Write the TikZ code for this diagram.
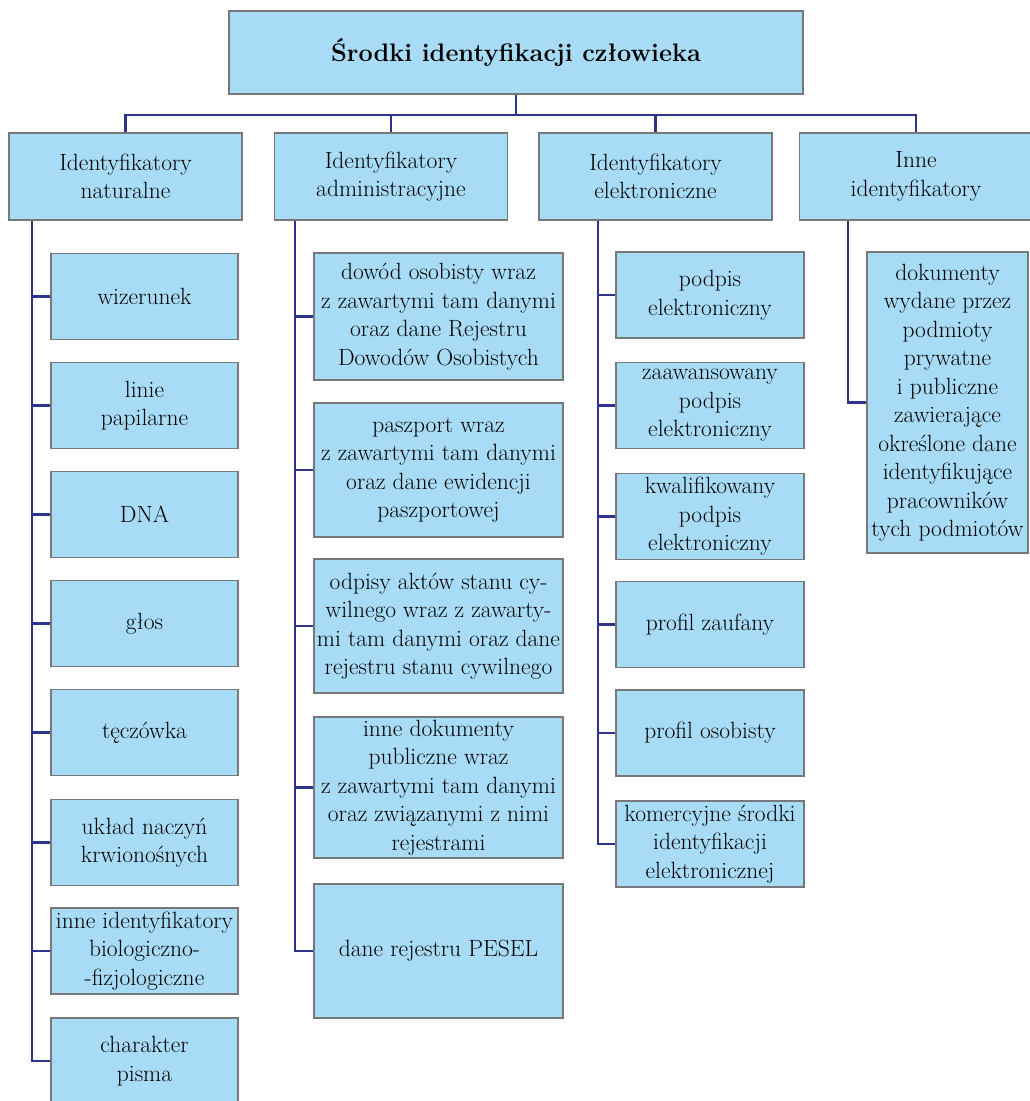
\documentclass[tikz,border=0pt]{standalone}
\usepackage{fontspec}
\usepackage{tikz}
\definecolor{boxfill}{RGB}{168,220,246}
\definecolor{boxline}{RGB}{120,120,120}
\definecolor{linkblue}{RGB}{46,52,140}

\begin{document}
\begin{tikzpicture}[x=1pt,y=-1pt]
\tikzstyle{box}=[rectangle,draw=boxline,fill=boxfill,line width=1.5pt,align=center,inner sep=0pt,font=\fontsize{23.5}{28.5}\selectfont]
\tikzstyle{main}=[box,minimum width=574pt,minimum height=83pt,font=\bfseries\fontsize{25.3}{30}\selectfont]
\tikzstyle{group}=[box,minimum width=233pt,minimum height=87pt]
\tikzstyle{natbox}=[box,minimum width=187pt,minimum height=86pt]
\tikzstyle{admbox}=[box,minimum width=249pt]
\tikzstyle{elbox}=[box,minimum width=188pt,minimum height=86pt]
\tikzstyle{link}=[draw=linkblue,line width=2.6pt]
\useasboundingbox (0,0) rectangle (1030,1101);

\node[main] (root) at (516,52.5) {Środki identyfikacji człowieka};

\node[group] (nat) at (125.5,176.5) {Identyfikatory\\naturalne};
\node[group] (adm) at (391,176.5) {Identyfikatory\\administracyjne};
\node[group] (el) at (655.5,176.5) {Identyfikatory\\elektroniczne};
\node[group] (other) at (916,176.5) {Inne\\identyfikatory};

% identyfikatory naturalne
\node[natbox] (nat1) at (144.5,296.5) {wizerunek};
\node[natbox] (nat2) at (144.5,405.5) {linie\\papilarne};
\node[natbox] (nat3) at (144.5,514.5) {DNA};
\node[natbox] (nat4) at (144.5,623.5) {głos};
\node[natbox] (nat5) at (144.5,732.5) {tęczówka};
\node[natbox] (nat6) at (144.5,842.5) {układ naczyń\\krwionośnych};
\node[natbox] (nat7) at (144.5,951) {inne identyfikatory\\biologiczno-\\-fizjologiczne};
\node[natbox] (nat8) at (144.5,1061) {charakter\\pisma};

% identyfikatory administracyjne
\node[admbox,minimum height=127pt] (adm1) at (438.5,316.5) {dowód osobisty wraz\\z zawartymi tam danymi\\oraz dane Rejestru\\Dowodów Osobistych};
\node[admbox,minimum height=134pt] (adm2) at (438.5,470) {paszport wraz\\z zawartymi tam danymi\\oraz dane ewidencji\\paszportowej};
\node[admbox,minimum height=134pt] (adm3) at (438.5,626) {odpisy aktów stanu cy-\\wilnego wraz z zawarty-\\mi tam danymi oraz dane\\rejestru stanu cywilnego};
\node[admbox,minimum height=141pt] (adm4) at (438.5,787.5) {inne dokumenty\\publiczne wraz\\z zawartymi tam danymi\\oraz związanymi z nimi\\rejestrami};
\node[admbox,minimum height=134pt] (adm5) at (438.5,951) {dane rejestru PESEL};

% identyfikatory elektroniczne
\node[elbox] (el1) at (710,295) {podpis\\elektroniczny};
\node[elbox] (el2) at (710,405.5) {zaawansowany\\podpis\\elektroniczny};
\node[elbox] (el3) at (710,516.5) {kwalifikowany\\podpis\\elektroniczny};
\node[elbox] (el4) at (710,624.5) {profil zaufany};
\node[elbox] (el5) at (710,733) {profil osobisty};
\node[elbox] (el6) at (710,844) {komercyjne środki\\identyfikacji\\elektronicznej};

% inne identyfikatory
\node[box,minimum width=161pt,minimum height=301pt] (oth1) at (947.5,402.5) {dokumenty\\wydane przez\\podmioty\\prywatne\\i publiczne\\zawierające\\określone dane\\identyfikujące\\pracowników\\tych podmiotów};

\coordinate (bus) at (516,115);
\draw[link] (root.south) -- (bus);
\foreach \g in {nat,adm,el,other}
  \draw[link] (bus) -| (\g.north);

\coordinate (natspine) at (32,220.5);
\coordinate (admspine) at (295,220.5);
\coordinate (elspine) at (598,220.5);
\coordinate (othspine) at (848,220.5);

\foreach \i in {1,...,8}
  \draw[link] (natspine) |- (nat\i.west);
\foreach \i in {1,...,5}
  \draw[link] (admspine) |- (adm\i.west);
\foreach \i in {1,...,6}
  \draw[link] (elspine) |- (el\i.west);
\draw[link] (othspine) |- (oth1.west);
\end{tikzpicture}
\end{document}
